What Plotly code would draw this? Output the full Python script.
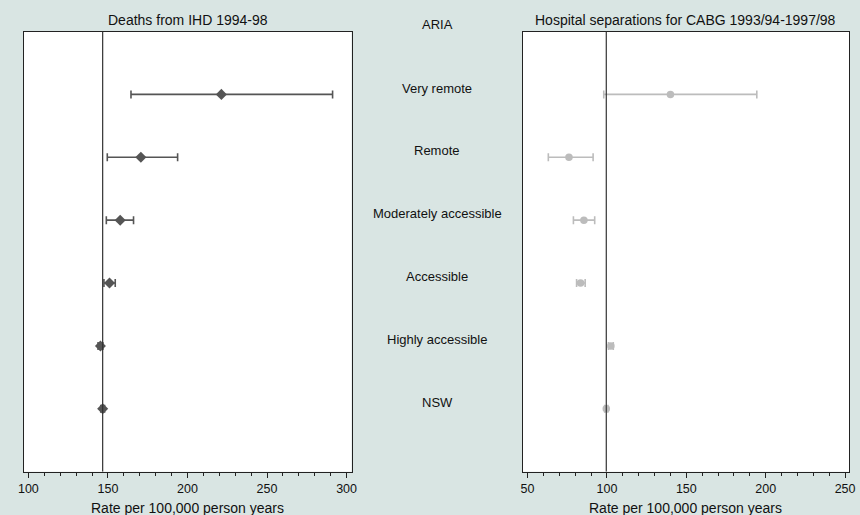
import plotly.graph_objects as go

categories = ["Very remote", "Remote", "Moderately accessible", "Accessible", "Highly accessible", "NSW"]
row_pos = [6, 5, 4, 3, 2, 1]

ihd_rate = [221.3, 170.7, 157.7, 151.0, 145.3, 146.7]
ihd_low = [164.5, 149.6, 149.0, 147.5, 143.8, 145.5]
ihd_high = [291.2, 193.8, 166.1, 154.6, 146.8, 147.9]
ihd_ref = 146.7

cabg_rate = [140.0, 76.1, 85.5, 83.4, 102.5, 99.6]
cabg_low = [98.0, 63.1, 78.9, 80.9, 101.0, 98.6]
cabg_high = [194.4, 91.3, 92.3, 86.3, 104.0, 100.6]
cabg_ref = 99.6

left_ticks = [100, 150, 200, 250, 300]
right_ticks = [50, 100, 150, 200, 250]

W, H = 860, 515
BG = "#d9e5e3"
DARK = "#555555"
LIGHT = "#bcbcbc"
FONT = "Liberation Sans, Arial, sans-serif"

fig = go.Figure()

fig.add_trace(go.Scatter(
    x=ihd_rate, y=row_pos, mode="markers", xaxis="x", yaxis="y",
    marker=dict(symbol="diamond", size=8.5, color=DARK),
    error_x=dict(type="data", symmetric=False,
                 array=[h - r for h, r in zip(ihd_high, ihd_rate)],
                 arrayminus=[r - l for r, l in zip(ihd_rate, ihd_low)],
                 color=DARK, thickness=1.6, width=4),
    showlegend=False))

fig.add_trace(go.Scatter(
    x=cabg_rate, y=row_pos, mode="markers", xaxis="x2", yaxis="y2",
    marker=dict(symbol="circle", size=7.5, color=LIGHT),
    error_x=dict(type="data", symmetric=False,
                 array=[h - r for h, r in zip(cabg_high, cabg_rate)],
                 arrayminus=[r - l for r, l in zip(cabg_rate, cabg_low)],
                 color=LIGHT, thickness=1.6, width=4),
    showlegend=False))

xd1 = [18.3 / W, 350.0 / W]
xd2 = [523.3 / W, 854.3 / W]
yd = [1 - 471.7 / H, 1 - 31.5 / H]

axis_common = dict(
    showgrid=False, zeroline=False, showline=True, linecolor="#222222", linewidth=1,
    mirror=True, ticks="outside", ticklen=5, tickwidth=1, tickcolor="#222222",
    tickfont=dict(family=FONT, size=12.5, color="#111111"),
    minor=dict(dtick=10, ticks="outside", ticklen=3, tickwidth=1, tickcolor="#222222"),
)

fig.update_layout(
    width=W, height=H, margin=dict(l=0, r=0, t=0, b=0),
    paper_bgcolor=BG, plot_bgcolor="white",
    font=dict(family=FONT, size=12, color="#111111"),
    xaxis=dict(domain=xd1, range=[97.3, 303.1], tickvals=left_ticks, anchor="y", **axis_common),
    yaxis=dict(domain=yd, range=[0, 7], showticklabels=False, ticks="", showgrid=False,
               zeroline=False, showline=True, linecolor="#222222", mirror=True, anchor="x"),
    xaxis2=dict(domain=xd2, range=[46.9, 252.7], tickvals=right_ticks, anchor="y2", **axis_common),
    yaxis2=dict(domain=yd, range=[0, 7], showticklabels=False, ticks="", showgrid=False,
                zeroline=False, showline=True, linecolor="#222222", mirror=True, anchor="x2"),
)

fig.add_shape(type="line", xref="x", yref="y", x0=ihd_ref, x1=ihd_ref, y0=0, y1=7,
              line=dict(color="#333333", width=1.2))
fig.add_shape(type="line", xref="x2", yref="y2", x0=cabg_ref, x1=cabg_ref, y0=0, y1=7,
              line=dict(color="#333333", width=1.2))

common_ann = dict(xref="paper", xanchor="center", yanchor="middle", showarrow=False)
ann = []
ann.append(dict(text="Deaths from IHD 1994-98", x=(xd1[0] + xd1[1]) / 2, y=1 - 19.5 / H,
                yref="paper", font=dict(size=14), **common_ann))
ann.append(dict(text="Hospital separations for CABG 1993/94-1997/98", x=(xd2[0] + xd2[1]) / 2,
                y=1 - 19.5 / H, yref="paper", font=dict(size=14), **common_ann))
ann.append(dict(text="ARIA", x=436.7 / W, y=1 - 25 / H, yref="paper", font=dict(size=13), **common_ann))
for c, p in zip(categories, row_pos):
    ann.append(dict(text=c, x=436.7 / W, y=p + 0.1, yref="y", font=dict(size=13), **common_ann))
for xd in (xd1, xd2):
    ann.append(dict(text="Rate per 100,000 person years", x=(xd[0] + xd[1]) / 2,
                    y=1 - 507.5 / H, yref="paper", font=dict(size=14), **common_ann))
fig.update_layout(annotations=ann)

fig.write_html("out.html")
